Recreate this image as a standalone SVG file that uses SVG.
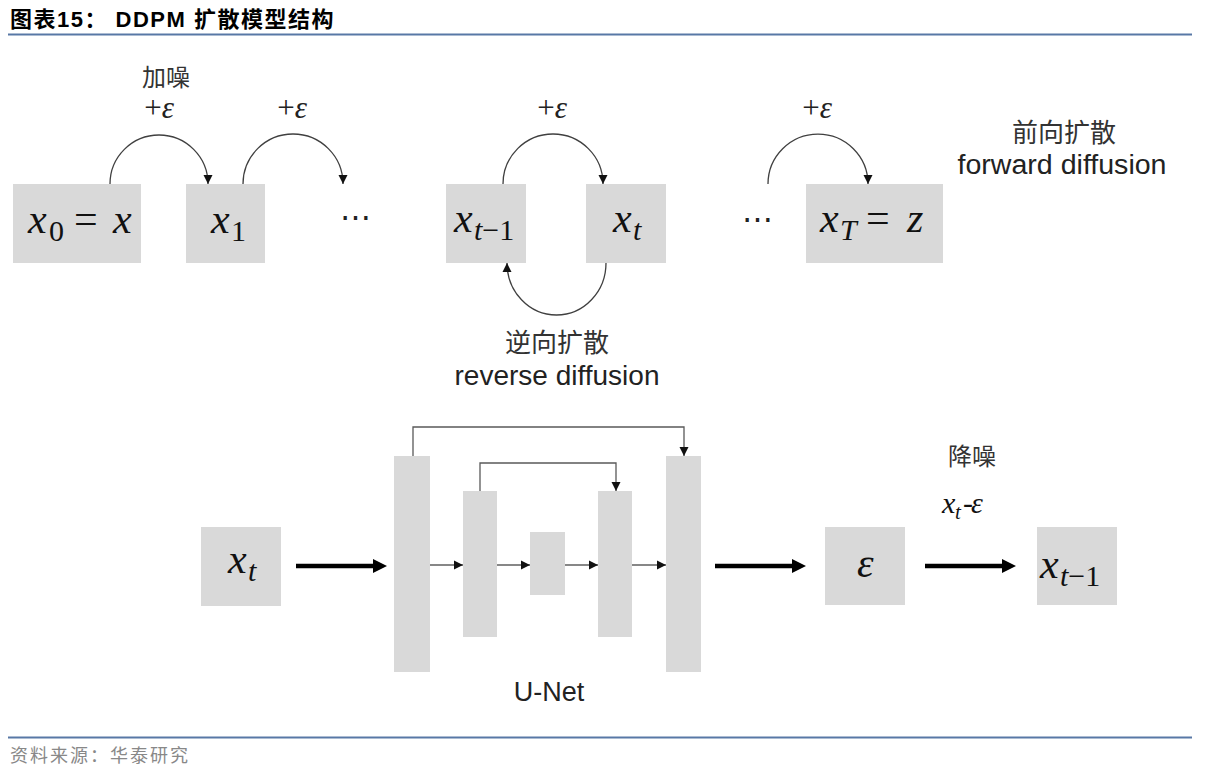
<svg xmlns="http://www.w3.org/2000/svg" width="1213" height="782" viewBox="0 0 1213 782">
<style>
.box{fill:#d9d9d9}
.m{font-family:"Liberation Serif","DejaVu Serif",serif;font-size:42px;fill:#111}
.i{font-style:italic}
.sub{font-size:30px}
.pe{font-family:"Liberation Serif","DejaVu Serif",serif;font-size:31px;fill:#222;text-anchor:middle}
.cjk{font-family:"Noto Sans CJK SC",sans-serif;font-size:24px;fill:#333;text-anchor:middle}
.cjk26{font-size:26px}
.en{font-family:"Liberation Sans",Arial,sans-serif;font-size:27px;fill:#222;text-anchor:middle}
.arc{fill:none;stroke:#404040;stroke-width:1.3}
.skip{fill:none;stroke:#595959;stroke-width:1.3}
.thin{fill:none;stroke:#111;stroke-width:1.2}
.thick{fill:none;stroke:#000;stroke-width:4.5}
.rule{stroke:#5878a6;stroke-width:2}
</style>
<defs>
<marker id="ah" viewBox="0 0 10 10" refX="10" refY="5" markerUnits="userSpaceOnUse" markerWidth="9" markerHeight="10" orient="auto">
<path d="M0,0 L10,5 L0,10 z" fill="#111"/>
</marker>
<marker id="big" viewBox="0 0 10 10" refX="0" refY="5" markerUnits="userSpaceOnUse" markerWidth="14" markerHeight="15" orient="auto">
<path d="M0,0 L10,5 L0,10 z" fill="#000"/>
</marker>
</defs>
<rect width="1213" height="782" fill="#fff"/>

<g id="header">
<text x="10" y="27" font-family="'Liberation Sans','Noto Sans CJK SC',sans-serif" font-size="22" font-weight="bold" fill="#000" letter-spacing="1.5">图表15： DDPM 扩散模型结构</text>
<line class="rule" x1="8" y1="34.5" x2="1192" y2="34.5"/>
</g>

<g id="connectors">
<path class="arc" d="M110,184 A49,49 0 0 1 208,184" marker-end="url(#ah)"/>
<path class="arc" d="M243,184 A50,50 0 0 1 343,184" marker-end="url(#ah)"/>
<path class="arc" d="M503,184 A50,50 0 0 1 603,184" marker-end="url(#ah)"/>
<path class="arc" d="M768,184 A50,50 0 0 1 868,184" marker-end="url(#ah)"/>
<path class="arc" d="M606,263 A49.5,52 0 0 1 507,263" marker-end="url(#ah)"/>
<path class="skip" d="M413,456 V427 H684 V456" marker-end="url(#ah)"/>
<path class="skip" d="M480,491 V463 H616 V491" marker-end="url(#ah)"/>
<path class="thin" d="M430,565 H463" marker-end="url(#ah)"/>
<path class="thin" d="M497,565 H530" marker-end="url(#ah)"/>
<path class="thin" d="M565,565 H598" marker-end="url(#ah)"/>
<path class="thin" d="M632,565 H666" marker-end="url(#ah)"/>
<path class="thick" d="M296,566 H373" marker-end="url(#big)"/>
<path class="thick" d="M715,566 H792" marker-end="url(#big)"/>
<path class="thick" d="M925,566 H1002" marker-end="url(#big)"/>
</g>

<g id="labels">
<text class="cjk" x="166" y="86">加噪</text>
<text class="pe" x="159" y="118">+<tspan class="i">ε</tspan></text>
<text class="pe" x="292" y="118">+<tspan class="i">ε</tspan></text>
<text class="pe" x="552" y="118">+<tspan class="i">ε</tspan></text>
<text class="pe" x="817" y="118">+<tspan class="i">ε</tspan></text>
<text class="pe" x="355" y="228">⋯</text>
<text class="pe" x="757" y="230">⋯</text>
<text class="cjk cjk26" x="1064" y="142">前向扩散</text>
<text class="en" x="1062" y="174" textLength="209" lengthAdjust="spacingAndGlyphs">forward diffusion</text>
<text class="cjk cjk26" x="557" y="352">逆向扩散</text>
<text class="en" x="557" y="385" textLength="205" lengthAdjust="spacingAndGlyphs">reverse diffusion</text>
<text class="en" x="549" y="701">U-Net</text>
<text class="cjk" x="972" y="465">降噪</text>
<text class="m" y="513" style="font-size:30px"><tspan x="942" class="i">x</tspan><tspan x="955" dy="6" class="i" style="font-size:21px">t</tspan><tspan x="963" dy="-6">-</tspan><tspan x="971" class="i">ε</tspan></text>
</g>

<g id="node-x0">
<rect class="box" x="13" y="184" width="128" height="79"/>
<text class="m" y="233"><tspan x="28" class="i">x</tspan><tspan x="49" dy="8" class="sub">0</tspan><tspan x="74" dy="-8">=</tspan><tspan x="113" class="i">x</tspan></text>
</g>
<g id="node-x1">
<rect class="box" x="186" y="184" width="79" height="79"/>
<text class="m" y="233"><tspan x="211" class="i">x</tspan><tspan x="231" dy="8" class="sub">1</tspan></text>
</g>
<g id="node-xt-1">
<rect class="box" x="446" y="184" width="80" height="79"/>
<text class="m" y="232"><tspan x="454" class="i">x</tspan><tspan x="474" dy="8" class="sub"><tspan class="i">t</tspan>−1</tspan></text>
</g>
<g id="node-xt">
<rect class="box" x="586" y="184" width="80" height="79"/>
<text class="m" y="232"><tspan x="613" class="i">x</tspan><tspan x="633" dy="8" class="sub i">t</tspan></text>
</g>
<g id="node-xT">
<rect class="box" x="806" y="184" width="137" height="79"/>
<text class="m" y="232"><tspan x="820" class="i">x</tspan><tspan x="840" dy="8" class="sub i">T</tspan><tspan x="866" dy="-8">=</tspan><tspan x="907" class="i">z</tspan></text>
</g>

<g id="node-input-xt">
<rect class="box" x="201" y="527" width="80" height="79"/>
<text class="m" y="573"><tspan x="228" class="i">x</tspan><tspan x="248" dy="8" class="sub i">t</tspan></text>
</g>
<g id="unet">
<rect class="box" x="394" y="456" width="36" height="216"/>
<rect class="box" x="463" y="491" width="34" height="146"/>
<rect class="box" x="530" y="532" width="35" height="63"/>
<rect class="box" x="598" y="491" width="34" height="146"/>
<rect class="box" x="666" y="456" width="35" height="216"/>
</g>
<g id="node-eps">
<rect class="box" x="825" y="527" width="80" height="78"/>
<text class="m i" x="857" y="577">ε</text>
</g>
<g id="node-out">
<rect class="box" x="1037" y="527" width="80" height="78"/>
<text class="m" y="578"><tspan x="1040" class="i">x</tspan><tspan x="1060" dy="8" class="sub"><tspan class="i">t</tspan>−1</tspan></text>
</g>

<g id="footer">
<line class="rule" x1="8" y1="737.5" x2="1192" y2="737.5"/>
<text x="10" y="762" font-family="'Noto Sans CJK SC',sans-serif" font-size="18" fill="#888" letter-spacing="2">资料来源：华泰研究</text>
</g>
</svg>
